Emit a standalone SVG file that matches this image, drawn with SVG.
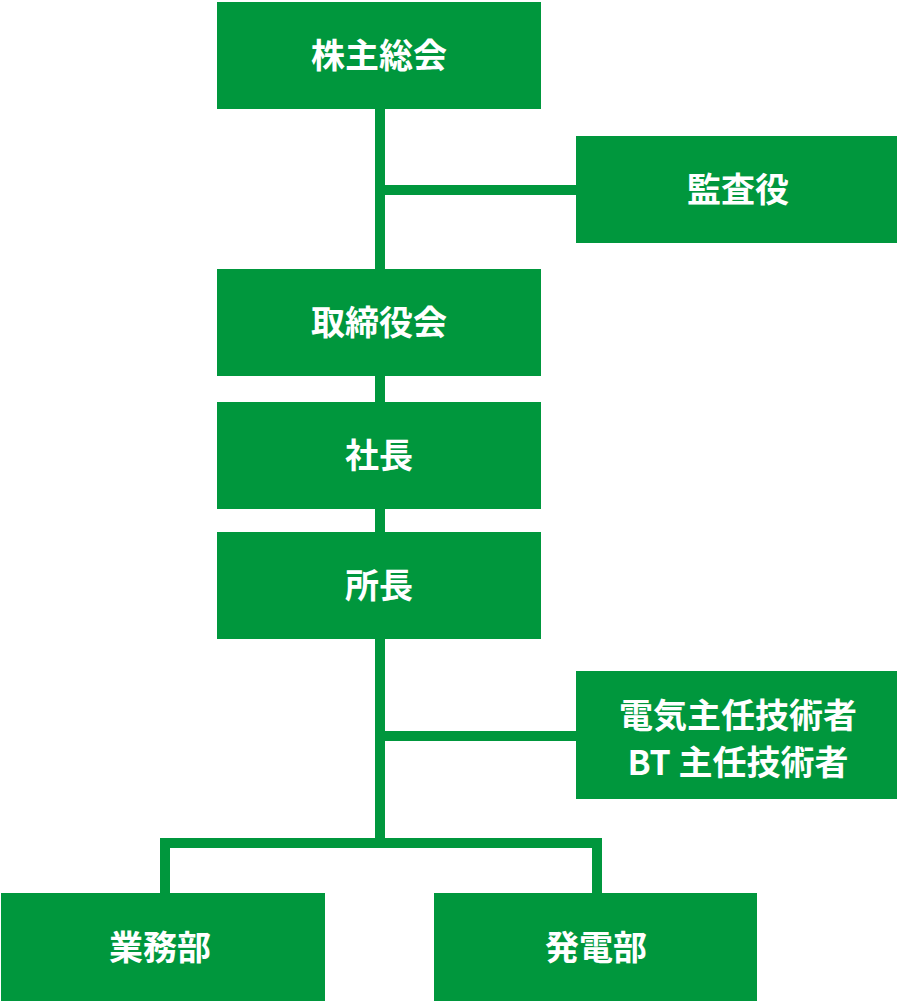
<svg xmlns="http://www.w3.org/2000/svg" width="897" height="1004" viewBox="0 0 897 1004">
<style>
.b{fill:#00973d}
.t{fill:#fff;font-family:"Noto Sans CJK JP","Noto Sans",sans-serif;font-weight:bold;font-size:34px;text-anchor:middle}
.c{stroke:#00973d;stroke-width:10;fill:none}
</style>
<g id="connectors">
<path class="c" d="M380 109V269M380 190H576M380 376V402M380 509V532M380 639V838M380 736H576M165 893V843H597V893"/>
</g>
<g id="n1"><rect class="b" x="217" y="2" width="324" height="107"/><text class="t" x="379" y="68">株主総会</text></g>
<g id="n2"><rect class="b" x="576" y="136" width="321" height="107"/><text class="t" x="738" y="202">監査役</text></g>
<g id="n3"><rect class="b" x="217" y="269" width="324" height="107"/><text class="t" x="379" y="335">取締役会</text></g>
<g id="n4"><rect class="b" x="217" y="402" width="324" height="107"/><text class="t" x="379" y="468">社長</text></g>
<g id="n5"><rect class="b" x="217" y="532" width="324" height="107"/><text class="t" x="379" y="598">所長</text></g>
<g id="n6"><rect class="b" x="576" y="671" width="321" height="128"/><text class="t" x="738" y="728">電気主任技術者</text><text class="t" x="738" y="775">BT 主任技術者</text></g>
<g id="n7"><rect class="b" x="1" y="893" width="324" height="108"/><text class="t" x="160" y="960">業務部</text></g>
<g id="n8"><rect class="b" x="434" y="893" width="323" height="108"/><text class="t" x="596" y="960">発電部</text></g>
</svg>
